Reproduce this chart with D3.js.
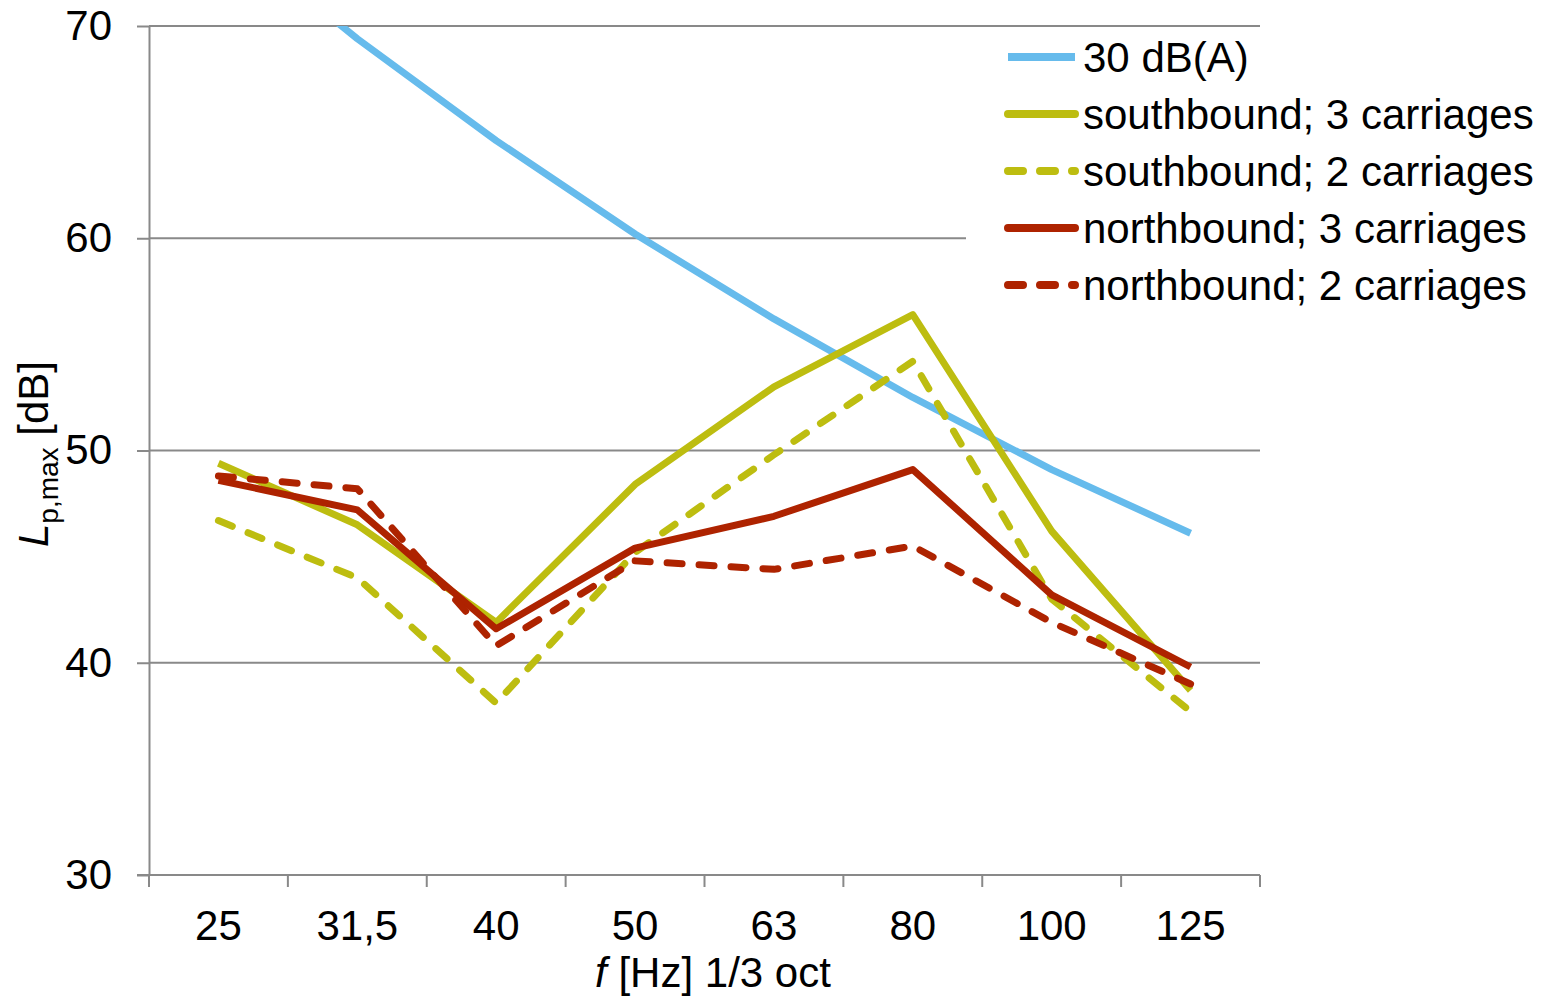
<!DOCTYPE html>
<html>
  <head>
    <meta charset="utf-8">
    <title>Lp,max per third-octave band</title>
    <script src="https://d3js.org/d3.v7.min.js"></script>
    <style>
      body { margin: 0; background: #fff; }
      svg { display: block; font-family: "Liberation Sans", Arial, sans-serif; }
      .axis text { font-size: 42px; fill: #000; font-family: "Liberation Sans", Arial, sans-serif; }
      .axis path, .axis line { stroke: #898989; stroke-width: 2; }
      .grid line { stroke: #898989; stroke-width: 2; }
      .plot { fill: none; stroke-width: 7; stroke-linejoin: round; }
      .label { font-size: 42px; fill: #000; }
    </style>
  </head>
  <body>
    <svg id="chart" width="1553" height="1001">
      <defs>
        <clipPath id="plotClip"><rect id="clipRect"></rect></clipPath>
      </defs>
      <g id="gridGroup" class="grid"></g>
      <g id="axes">
        <g id="xAxisGroup" class="axis"></g>
        <g id="yAxisGroup" class="axis"></g>
      </g>
      <g id="chartGroup" clip-path="url(#plotClip)"></g>
      <g id="legendGroup"></g>
    </svg>
    <script>
      // chart data
      var bands = ["25", "31,5", "40", "50", "63", "80", "100", "125"];
      var yTicks = [30, 40, 50, 60, 70];
      var dBA30 = [74.7, 69.4, 64.6, 60.2, 56.2, 52.5, 49.1, 46.1];
      var south3 = [49.4, 46.5, 41.9, 48.4, 53.0, 56.4, 46.2, 38.7];
      var south2 = [46.7, 44.0, 38.1, 45.2, 49.8, 54.2, 43.0, 37.7];
      var north3 = [48.6, 47.2, 41.6, 45.4, 46.9, 49.1, 43.2, 39.8];
      var north2 = [48.8, 48.2, 40.8, 44.8, 44.4, 45.5, 41.9, 39.0];

      var series = [
        { name: "30 dB(A)", values: dBA30, color: "#66bbec", dash: null },
        { name: "southbound; 3 carriages", values: south3, color: "#bdbd10", dash: null },
        { name: "southbound; 2 carriages", values: south2, color: "#bdbd10", dash: "15,17" },
        { name: "northbound; 3 carriages", values: north3, color: "#ae2300", dash: null },
        { name: "northbound; 2 carriages", values: north2, color: "#ae2300", dash: "15,17" }
      ];

      // page elements
      var margin = { top: 26, right: 293, bottom: 126, left: 149 };
      var width = 1553, height = 1001;
      var chart = d3.select("#chart");
      var chartGroup = d3.select("#chartGroup");
      var gridGroup = d3.select("#gridGroup");
      var xAxisGroup = d3.select("#xAxisGroup");
      var yAxisGroup = d3.select("#yAxisGroup");
      var legendGroup = d3.select("#legendGroup");

      // scales
      var x = d3.scaleBand()
        .domain(bands)
        .range([margin.left, width - margin.right]);
      var y = d3.scaleLinear()
        .domain([30, 70])
        .range([height - margin.bottom, margin.top]);

      d3.select("#clipRect")
        .attr("x", margin.left)
        .attr("y", margin.top)
        .attr("width", width - margin.right - margin.left)
        .attr("height", height - margin.bottom - margin.top);

      // gridlines
      gridGroup.selectAll("line")
          .data(yTicks.filter(function(d) { return d > 30; }))
        .enter().append("line")
          .attr("x1", margin.left)
          .attr("x2", width - margin.right)
          .attr("y1", function(d) { return y(d); })
          .attr("y2", function(d) { return y(d); });

      // axes
      var xAxis = d3.axisBottom(x)
        .tickSize(0)
        .tickPadding(35);
      xAxisGroup.attr("transform", "translate(0," + (height - margin.bottom) + ")")
        .call(xAxis);
      xAxisGroup.select(".domain").attr("d", "M" + (margin.left - 12) + ",0H" + (width - margin.right));
      var boundaries = bands.map(function(d) { return x(d); }).concat([x.range()[1]]);
      xAxisGroup.selectAll(".bound")
          .data(boundaries)
        .enter().append("line")
          .attr("class", "bound")
          .attr("x1", function(d) { return d; })
          .attr("x2", function(d) { return d; })
          .attr("y1", 0)
          .attr("y2", 12);

      var yAxis = d3.axisLeft(y)
        .tickValues(yTicks)
        .tickSize(12)
        .tickPadding(25)
        .tickSizeOuter(0);
      yAxisGroup.attr("transform", "translate(" + margin.left + ",0)")
        .call(yAxis);

      // axis titles
      var yTitle = chart.append("text")
        .attr("class", "label")
        .attr("text-anchor", "middle")
        .attr("transform", "translate(48,454) rotate(-90)");
      yTitle.append("tspan").attr("font-style", "italic").text("L");
      yTitle.append("tspan").attr("font-size", 28).attr("dy", 10).text("p,max");
      yTitle.append("tspan").attr("dy", -10).text(" [dB]");

      var xTitle = chart.append("text")
        .attr("class", "label")
        .attr("text-anchor", "middle")
        .attr("x", 713)
        .attr("y", 987);
      xTitle.append("tspan").attr("font-style", "italic").text("f");
      xTitle.append("tspan").text(" [Hz] 1/3 oct");

      // lines
      var line = d3.line()
        .x(function(d, i) { return x(bands[i]) + x.bandwidth() / 2; })
        .y(function(d) { return y(d); });

      chartGroup.selectAll(".plot")
          .data(series)
        .enter().append("path")
          .attr("class", "plot")
          .attr("stroke", function(d) { return d.color; })
          .attr("stroke-dasharray", function(d) { return d.dash; })
          .attr("stroke-linecap", function(d) { return d.dash ? "round" : "butt"; })
          .attr("d", function(d) { return line(d.values); });

      // legend
      legendGroup.append("rect")
        .attr("x", 966)
        .attr("y", 30)
        .attr("width", width - 966)
        .attr("height", 282)
        .attr("fill", "#fff");
      var items = legendGroup.selectAll(".item")
          .data(series)
        .enter().append("g")
          .attr("class", "item")
          .attr("transform", function(d, i) { return "translate(0," + (57 + i * 57) + ")"; });
      items.append("line")
        .attr("x1", function(d, i) { return i === 0 ? 1008 : 1008; })
        .attr("x2", 1075)
        .attr("stroke", function(d) { return d.color; })
        .attr("stroke-width", 8)
        .attr("stroke-linecap", function(d, i) { return i === 0 ? "butt" : "round"; })
        .attr("stroke-dasharray", function(d) { return d.dash; });
      items.append("text")
        .attr("class", "label")
        .attr("x", 1083)
        .attr("y", 15)
        .text(function(d) { return d.name; });
    </script>
  </body>
</html>
